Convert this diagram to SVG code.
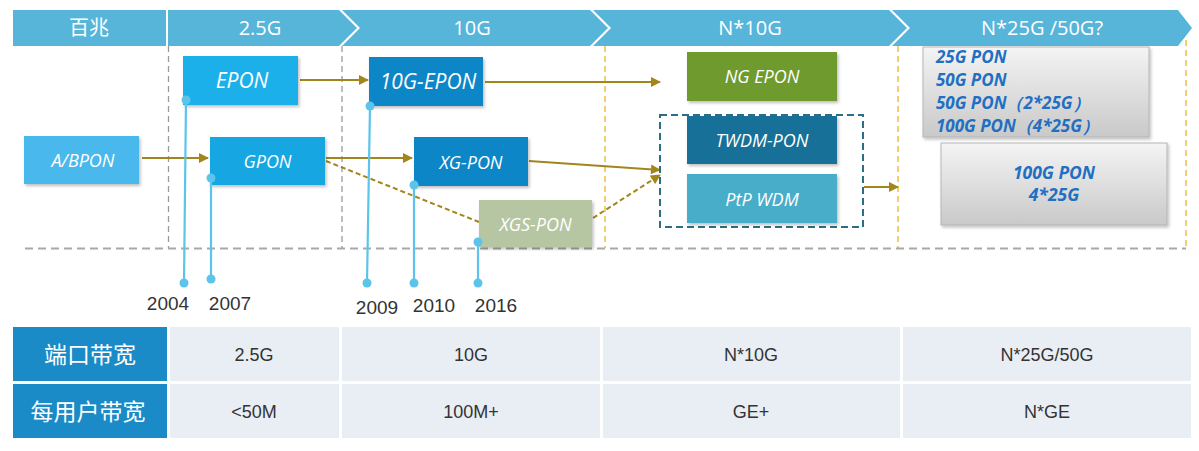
<svg xmlns="http://www.w3.org/2000/svg" width="1199" height="451" viewBox="0 0 1199 451">
<style>
.hdr{font-family:"Open Sans","Noto Sans CJK SC",sans-serif;font-size:20px;fill:#fff;text-anchor:middle}
.bt{font-family:"Open Sans",sans-serif;font-style:italic;font-size:18px;fill:#fff;text-anchor:middle}
.gt{font-family:"Open Sans",sans-serif;font-style:italic;font-weight:bold;font-size:17px;fill:#1f6fc2}
.yr{font-family:"Liberation Sans",Arial,sans-serif;font-size:19px;fill:#333}
.tv{font-family:"Liberation Sans",Arial,sans-serif;font-size:18px;fill:#333;text-anchor:middle}
.th{font-family:"Noto Sans CJK SC",sans-serif;font-size:23px;fill:#fff;text-anchor:middle}
.arr{stroke:#a3861b;stroke-width:2;fill:none}
.arrd{stroke:#a3861b;stroke-width:2;fill:none;stroke-dasharray:5,3}
.pin{stroke:#5cc4ea;stroke-width:2.2;fill:none}
.dot{fill:#5cc4ea}
.gd{stroke:#9a9a9a;stroke-width:1.3;stroke-dasharray:6,4;fill:none}
.yd{stroke:#f0c23a;stroke-width:1.5;stroke-dasharray:6,4;fill:none}
.cell{fill:#e9eef4}
</style>
<defs>
<marker id="ah" viewBox="0 0 10 10" refX="9" refY="5" markerWidth="11" markerHeight="10" orient="auto" markerUnits="userSpaceOnUse">
<path d="M0,0 L10,5 L0,10 z" fill="#a3861b"/>
</marker>
<linearGradient id="gg" x1="0" y1="0" x2="0" y2="1">
<stop offset="0" stop-color="#f4f4f4"/>
<stop offset="1" stop-color="#c9c9c9"/>
</linearGradient>
<filter id="sh" x="-10%" y="-10%" width="130%" height="140%">
<feDropShadow dx="1.5" dy="2" stdDeviation="1.5" flood-color="#000" flood-opacity="0.25"/>
</filter>
</defs>
<rect width="1199" height="451" fill="#fff"/>

<g id="header">
<rect x="13" y="10" width="153" height="36" fill="#57b5da"/>
<text class="hdr" x="89" y="35">百兆</text>
<polygon points="168,10 339,10 357,28 339,46 168,46" fill="#57b5da"/>
<polygon points="342,10 590,10 608,28 590,46 342,46 360,28" fill="#57b5da"/>
<polygon points="593,10 889,10 907,28 889,46 593,46 611,28" fill="#57b5da"/>
<polygon points="892,10 1178,10 1192,28 1178,46 892,46 910,28" fill="#57b5da"/>
<text class="hdr" x="260" y="35">2.5G</text>
<text class="hdr" x="472" y="35">10G</text>
<text class="hdr" x="750" y="35">N*10G</text>
<text class="hdr" x="1042" y="35">N*25G /50G?</text>
</g>

<g id="guides">
<line class="gd" x1="168.5" y1="46" x2="168.5" y2="248"/>
<line class="gd" x1="342" y1="46" x2="342" y2="248"/>
<line class="yd" x1="605" y1="46" x2="605" y2="248"/>
<line class="yd" x1="898" y1="46" x2="898" y2="248"/>
<line class="yd" x1="1186" y1="40" x2="1186" y2="248"/>
<line x1="25" y1="248.5" x2="1186" y2="248.5" stroke="#a8a8a8" stroke-width="2" stroke-dasharray="8,5"/>
</g>

<g id="connectors">
<line class="arr" x1="300" y1="80" x2="368" y2="80" marker-end="url(#ah)"/>
<line class="arr" x1="485" y1="82" x2="660" y2="82" marker-end="url(#ah)"/>
<line class="arr" x1="142" y1="158" x2="208" y2="158" marker-end="url(#ah)"/>
<line class="arr" x1="326" y1="158" x2="412" y2="158" marker-end="url(#ah)"/>
<line class="arr" x1="529" y1="161" x2="660" y2="170" marker-end="url(#ah)"/>
<line class="arrd" x1="326" y1="161" x2="479" y2="222"/>
<line class="arrd" x1="593" y1="218" x2="660" y2="175" marker-end="url(#ah)"/>
<line class="arr" x1="864" y1="187" x2="898" y2="187" marker-end="url(#ah)"/>
</g>

<g id="n-epon"><rect x="183" y="56" width="115" height="49" fill="#1ab0ea" filter="url(#sh)"/><text class="bt" x="242" y="88" style="font-size:21px">EPON</text></g>
<g id="n-10gepon"><rect x="369" y="57" width="114" height="49" fill="#0a86c8" filter="url(#sh)"/><text class="bt" x="428" y="89" style="font-size:21px">10G-EPON</text></g>
<g id="n-abpon"><rect x="24" y="136" width="115" height="48" fill="#49b8ec" filter="url(#sh)"/><text class="bt" x="83" y="167">A/BPON</text></g>
<g id="n-gpon"><rect x="210" y="137" width="115" height="48" fill="#14a7e2" filter="url(#sh)"/><text class="bt" x="267.5" y="168">GPON</text></g>
<g id="n-xgpon"><rect x="414" y="137" width="114" height="49" fill="#0a86c8" filter="url(#sh)"/><text class="bt" x="471" y="169">XG-PON</text></g>
<g id="n-xgspon"><rect x="479" y="200" width="113" height="47" fill="#b6c6a2" filter="url(#sh)"/><text class="bt" x="535.5" y="231">XGS-PON</text></g>
<g id="n-ngepon"><rect x="687" y="52" width="150" height="49" fill="#6e9a2f" filter="url(#sh)"/><text class="bt" x="762" y="83">NG EPON</text></g>
<g id="n-wdm">
<rect x="660" y="115" width="203" height="112" fill="none" stroke="#2b6e86" stroke-width="2" stroke-dasharray="7,4"/>
<rect x="687" y="116" width="150" height="48" fill="#176f97" filter="url(#sh)"/><text class="bt" x="762" y="147">TWDM-PON</text>
<rect x="687" y="174" width="150" height="49" fill="#47adc9" filter="url(#sh)"/><text class="bt" x="762" y="206">PtP WDM</text>
</g>
<g id="n-future1"><rect x="923" y="47" width="226" height="90" fill="url(#gg)" stroke="#b5b5b5" filter="url(#sh)"/>
<text class="gt" x="936" y="63">25G PON</text>
<text class="gt" x="936" y="86">50G PON</text>
<text class="gt" x="936" y="109">50G PON（2*25G）</text>
<text class="gt" x="936" y="132">100G  PON（4*25G）</text>
</g>
<g id="n-future2"><rect x="941" y="143" width="226" height="82" fill="url(#gg)" stroke="#b5b5b5" filter="url(#sh)"/>
<text class="gt" x="1054" y="179" text-anchor="middle" style="font-size:17.5px">100G PON</text>
<text class="gt" x="1054" y="201" text-anchor="middle" style="font-size:17.5px">4*25G</text>
</g>

<g id="timeline">
<line class="pin" x1="186" y1="100" x2="184" y2="283"/><circle class="dot" cx="186" cy="100" r="4.5"/><circle class="dot" cx="184" cy="283" r="4.5"/>
<line class="pin" x1="211" y1="178" x2="211" y2="279"/><circle class="dot" cx="211" cy="178" r="4.5"/><circle class="dot" cx="211" cy="279" r="4.5"/>
<line class="pin" x1="370" y1="106" x2="367" y2="283"/><circle class="dot" cx="370" cy="106" r="4.5"/><circle class="dot" cx="367" cy="283" r="4.5"/>
<line class="pin" x1="414" y1="185" x2="414" y2="283"/><circle class="dot" cx="414" cy="185" r="4.5"/><circle class="dot" cx="414" cy="283" r="4.5"/>
<line class="pin" x1="478" y1="242" x2="478" y2="283"/><circle class="dot" cx="478" cy="242" r="4.5"/><circle class="dot" cx="478" cy="283" r="4.5"/>
<text class="yr" x="168" y="310" text-anchor="middle">2004</text>
<text class="yr" x="230" y="310" text-anchor="middle">2007</text>
<text class="yr" x="377" y="314" text-anchor="middle">2009</text>
<text class="yr" x="434" y="312" text-anchor="middle">2010</text>
<text class="yr" x="496" y="312" text-anchor="middle">2016</text>
</g>

<g id="table">
<rect x="13" y="327" width="154" height="54" fill="#1a8bc6"/>
<rect x="13" y="384" width="154" height="54" fill="#1a8bc6"/>
<rect class="cell" x="170" y="327" width="169" height="54"/>
<rect class="cell" x="342" y="327" width="258" height="54"/>
<rect class="cell" x="603" y="327" width="297" height="54"/>
<rect class="cell" x="903" y="327" width="288" height="54"/>
<rect class="cell" x="170" y="384" width="169" height="54"/>
<rect class="cell" x="342" y="384" width="258" height="54"/>
<rect class="cell" x="603" y="384" width="297" height="54"/>
<rect class="cell" x="903" y="384" width="288" height="54"/>
<text class="th" x="90" y="363">端口带宽</text>
<text class="th" x="88" y="420">每用户带宽</text>
<text class="tv" x="254" y="361">2.5G</text>
<text class="tv" x="471" y="361">10G</text>
<text class="tv" x="751" y="361">N*10G</text>
<text class="tv" x="1047" y="361">N*25G/50G</text>
<text class="tv" x="254" y="418">&lt;50M</text>
<text class="tv" x="471" y="418">100M+</text>
<text class="tv" x="751" y="418">GE+</text>
<text class="tv" x="1047" y="418">N*GE</text>
</g>
</svg>
